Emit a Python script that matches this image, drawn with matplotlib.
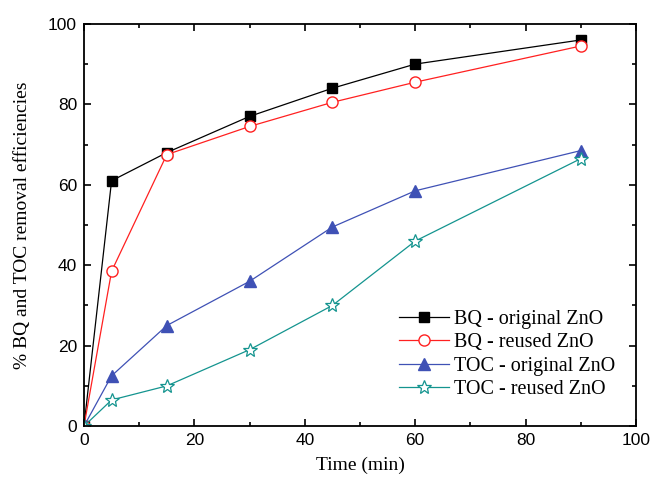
import matplotlib.pyplot as plt
from matplotlib.ticker import MultipleLocator

# Removal efficiencies (%) vs. irradiation time
time_min = [0, 5, 15, 30, 45, 60, 90]
bq_original = [0, 61, 68, 77, 84, 90, 96]
bq_reused = [0, 38.5, 67.5, 74.5, 80.5, 85.5, 94.5]
toc_original = [0, 12.5, 25, 36, 49.5, 58.5, 68.5]
toc_reused = [0, 6.5, 10, 19, 30, 46, 66.5]

fig = plt.figure(figsize=(6.51, 4.87), dpi=100)
ax = fig.add_axes([0.129, 0.125, 0.848, 0.826])

ax.plot(time_min, bq_original, color='black', lw=0.9, marker='s', ms=6.5,
        mfc='black', mec='black', label='BQ - original ZnO')
ax.plot(time_min, bq_reused, color='#ff2020', lw=0.9, marker='o', ms=8,
        mfc='white', mec='#ff2020', label='BQ - reused ZnO')
ax.plot(time_min, toc_original, color='#3f51b5', lw=0.9, marker='^', ms=9,
        mfc='#3f51b5', mec='#3f51b5', label='TOC - original ZnO')
ax.plot(time_min, toc_reused, color='#14948f', lw=0.9, marker='*', ms=10,
        mfc='white', mec='#14948f', mew=0.9, label='TOC - reused ZnO')

ax.set_xlim(0, 100)
ax.set_ylim(0, 100)
ax.xaxis.set_major_locator(MultipleLocator(20))
ax.xaxis.set_minor_locator(MultipleLocator(10))
ax.yaxis.set_major_locator(MultipleLocator(20))
ax.yaxis.set_minor_locator(MultipleLocator(10))
ax.tick_params(which='both', direction='in', top=True, right=True, width=1.2)
ax.tick_params(which='major', length=5, labelsize=12.5, pad=5)
ax.tick_params(which='minor', length=3)
for lab in ax.get_xticklabels() + ax.get_yticklabels():
    lab.set_family('Liberation Sans')
for s in ax.spines.values():
    s.set_linewidth(1.3)

ax.set_xlabel('Time (min)', family='Liberation Serif', fontsize=14, labelpad=6)
ax.set_ylabel('% BQ and TOC removal efficiencies', family='Liberation Serif',
              fontsize=14, labelpad=12)

ax.legend(loc='lower right', bbox_to_anchor=(0.995, 0.022), frameon=False,
          prop={'family': 'Liberation Serif', 'size': 14.5},
          handlelength=2.5, labelspacing=0.22, handletextpad=0.25)

fig.savefig('out.png', dpi=100)
